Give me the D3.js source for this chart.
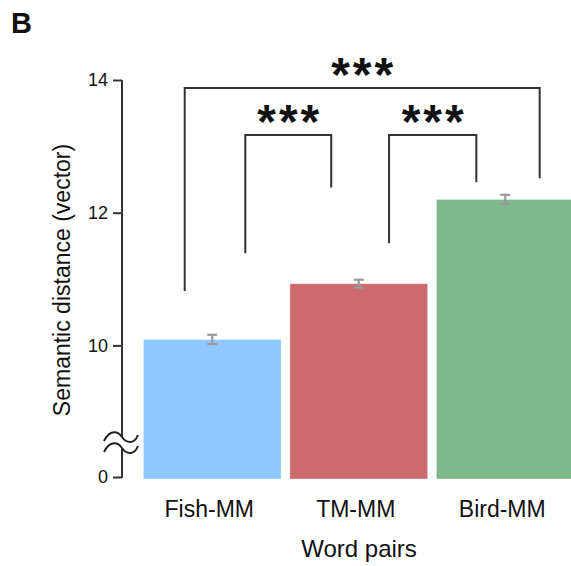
<!DOCTYPE html>
<html>
<head>
<meta charset="utf-8">
<script src="https://cdn.jsdelivr.net/npm/d3@7"></script>
<style>
  body { margin: 0; background: #fff; }
  text { font-family: "Liberation Sans", Arial, sans-serif; fill: #111; }
</style>
</head>
<body>
<div class="chartDiv"></div>
<script>
// data
var categories = ["Fish-MM", "TM-MM", "Bird-MM"];
var means = [10.09, 10.93, 12.2];
var sems = [0.07, 0.06, 0.07];
var colors = ["#8fc8ff", "#cc6a6e", "#7db98a"];
var tickValues = [0, 10, 12, 14];

// significance brackets: categories joined, leg ends and top (vector units)
var brackets = [
	{ from: 0, to: 2, offs: [-0.2, 0.25], legs: [10.82, 12.52], top: 13.88, label: "***" },
	{ from: 0, to: 1, offs: [0.24, -0.2], legs: [11.39, 12.38], top: 13.17, label: "***" },
	{ from: 1, to: 2, offs: [0.22, -0.21], legs: [11.54, 12.46], top: 13.17, label: "***" }
];

var width = 571, height = 566;

var svg = d3.select(".chartDiv").append("svg")
	.attr("width", width)
	.attr("height", height);

var xScale = d3.scaleBand()
	.domain(categories)
	.range([139, 578.5])
	.paddingInner(0.06)
	.paddingOuter(0.03);

// broken axis: 0 sits just below the break
var yScale = d3.scaleLinear()
	.domain([0, 8.52, 14])
	.range([477, 443.6, 80]);

var axisX = 122;
var bw = xScale.bandwidth();

// bars
svg.append("g").selectAll("rect")
	.data(means)
	.enter().append("rect")
	.attr("x", function (d, i) { return xScale(categories[i]); })
	.attr("y", function (d) { return yScale(d); })
	.attr("width", bw)
	.attr("height", function (d) { return yScale(0) + 2 - yScale(d); })
	.style("fill", function (d, i) { return colors[i]; })
	.style("stroke", "#fff")
	.style("stroke-opacity", 0.35)
	.style("stroke-width", 1);

// error bars
var err = svg.append("g").style("stroke", "#999").style("stroke-width", 2.2);
means.forEach(function (m, i) {
	var cx = xScale(categories[i]) + bw / 2;
	var y1 = yScale(m + sems[i]), y2 = yScale(m - sems[i]);
	err.append("line").attr("x1", cx).attr("x2", cx).attr("y1", y1).attr("y2", y2);
	err.append("line").attr("x1", cx - 5).attr("x2", cx + 5).attr("y1", y1).attr("y2", y1);
	err.append("line").attr("x1", cx - 5).attr("x2", cx + 5).attr("y1", y2).attr("y2", y2);
});

// y axis
var yAxis = d3.axisLeft(yScale).tickValues(tickValues).tickSize(9).tickPadding(5).tickFormat(d3.format("d"));
var gy = svg.append("g")
	.attr("transform", "translate(" + axisX + ",0)")
	.call(yAxis);
gy.select(".domain").remove();
gy.selectAll(".tick line").style("stroke", "#333").style("stroke-width", 2);
gy.selectAll(".tick text").style("font-size", "18px").style("fill", "#111");

// axis line with a gap for the break
var breakTop = 437, breakBot = 448;
svg.append("line").attr("x1", axisX).attr("x2", axisX)
	.attr("y1", yScale(14)).attr("y2", breakTop)
	.style("stroke", "#333").style("stroke-width", 2);
svg.append("line").attr("x1", axisX).attr("x2", axisX)
	.attr("y1", breakBot).attr("y2", yScale(0) + 1)
	.style("stroke", "#333").style("stroke-width", 2);

// the two squiggles
[breakTop, breakBot].forEach(function (y0) {
	svg.append("path")
		.attr("d", "M" + (axisX - 18) + "," + (y0 + 4) +
			" C" + (axisX - 12) + "," + (y0 - 8) + " " + (axisX - 4) + "," + (y0 - 6) + " " + axisX + "," + y0 +
			" C" + (axisX + 4) + "," + (y0 + 6) + " " + (axisX + 12) + "," + (y0 + 8) + " " + (axisX + 16) + "," + (y0 - 2))
		.style("fill", "none")
		.style("stroke", "#222")
		.style("stroke-width", 2);
});

// x labels
svg.append("g").selectAll("text")
	.data(categories)
	.enter().append("text")
	.attr("x", function (d) { return xScale(d) + bw / 2 - 3; })
	.attr("y", 517)
	.attr("text-anchor", "middle")
	.style("font-size", "23px")
	.text(String);

svg.append("text")
	.attr("x", 359)
	.attr("y", 557)
	.attr("text-anchor", "middle")
	.style("font-size", "24px")
	.text("Word pairs");

svg.append("text")
	.attr("transform", "translate(70,280) rotate(-90)")
	.attr("text-anchor", "middle")
	.style("font-size", "23px")
	.text("Semantic distance (vector)");

svg.append("text")
	.attr("x", 11)
	.attr("y", 33)
	.style("font-size", "29px")
	.style("font-weight", "bold")
	.text("B");

// brackets
var bg = svg.append("g");
brackets.forEach(function (b) {
	var xa = xScale(categories[b.from]) + bw / 2 + b.offs[0] * bw;
	var xb = xScale(categories[b.to]) + bw / 2 + b.offs[1] * bw;
	var yt = yScale(b.top);
	bg.append("path")
		.attr("d", "M" + xa + "," + yScale(b.legs[0]) + " L" + xa + "," + yt +
			" L" + xb + "," + yt + " L" + xb + "," + yScale(b.legs[1]))
		.style("fill", "none")
		.style("stroke", "#333")
		.style("stroke-width", 2);
	bg.append("text")
		.attr("x", (xa + xb) / 2 + 1.5)
		.attr("y", yt + 3)
		.attr("text-anchor", "middle")
		.style("font-size", "48px")
		.style("font-weight", "bold")
		.style("letter-spacing", "3px")
		.text(b.label);
});
</script>
</body>
</html>
